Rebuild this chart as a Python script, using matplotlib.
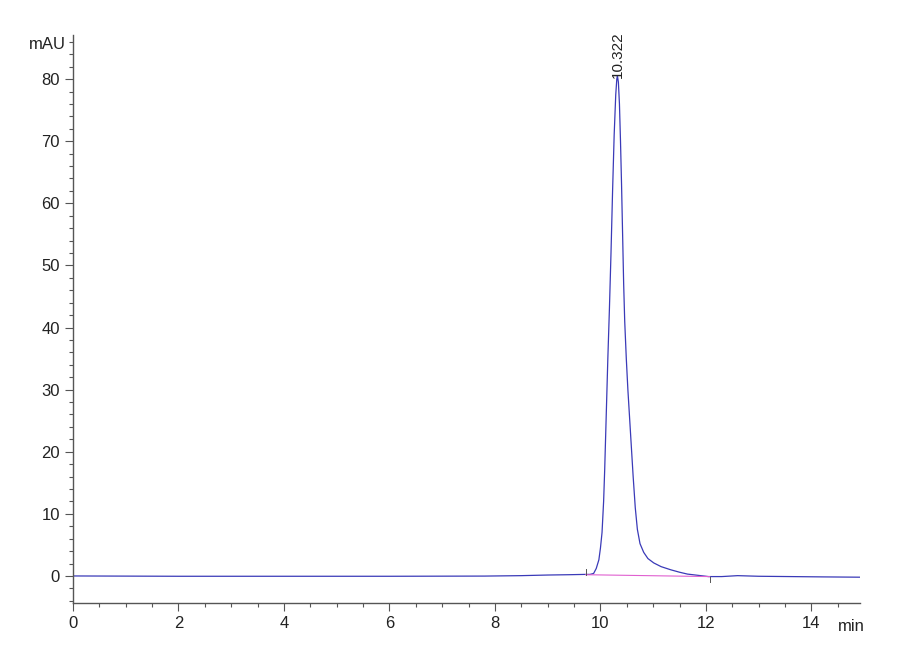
import matplotlib;
matplotlib.use('Agg');
import matplotlib.pyplot as plt;
from matplotlib.ticker import MultipleLocator;

# chromatogram (min, mAU)
time = [0.0, 2.0, 4.7, 6.0, 7.8, 8.5, 9.0, 9.4, 9.7, 9.8, 9.87, 9.92, 9.97,
        10.00, 10.03, 10.06, 10.08, 10.11, 10.14, 10.17, 10.20, 10.23, 10.26,
        10.29, 10.31, 10.322, 10.34, 10.36, 10.38, 10.40, 10.42, 10.44, 10.46,
        10.49, 10.52, 10.57, 10.62, 10.66, 10.70, 10.75, 10.82, 10.90, 11.01,
        11.15, 11.33, 11.50, 11.65, 11.85, 12.05, 12.30, 12.60, 13.00, 13.60,
        14.20, 14.93];
absorb = [0.0, -0.05, -0.05, -0.05, -0.02, 0.05, 0.15, 0.2, 0.25, 0.25, 0.4,
          1.2, 2.6, 4.5, 7.0, 12.0, 17.0, 26.0, 35.0, 43.0, 52.0, 62.0, 71.0,
          77.5, 80.0, 80.5, 79.5, 76.0, 70.0, 63.0, 55.0, 47.0, 41.0, 35.0,
          30.0, 23.0, 16.0, 11.0, 7.5, 5.2, 3.8, 2.8, 2.1, 1.5, 1.0, 0.6, 0.3,
          0.1, -0.1, -0.1, 0.05, -0.05, -0.1, -0.15, -0.2];

peak_rt = 10.322;
peak_h = 80.5;
base_t = [9.72, 12.07];
base_v = [0.2, -0.1];

FONT = ['Liberation Sans Narrow', 'Liberation Sans', 'DejaVu Sans'];
plt.rcParams['font.family'] = FONT;

fig = plt.figure(figsize=(9, 6.6), dpi=100);
ax = fig.add_axes([0.0811, 0.0864, 0.875, 0.8606]);

ax.plot(time, absorb, color='#3a3ab8', lw=0.9);
ax.plot(base_t, base_v, color='#e060d0', lw=0.8);
ax.plot([base_t[0], base_t[0]], [base_v[0], base_v[0] + 0.9], color='#555555', lw=0.7);
ax.plot([base_t[1], base_t[1]], [base_v[1], base_v[1] - 0.9], color='#555555', lw=0.7);

ax.text(peak_rt, peak_h - 0.4, '10.322', rotation=90, ha='center', va='bottom',
        fontsize=11, color='#222222');

ax.set_xlim(0, 14.93);
ax.set_ylim(-4.35, 87.1);
ax.xaxis.set_major_locator(MultipleLocator(2));
ax.xaxis.set_minor_locator(MultipleLocator(0.5));
ax.yaxis.set_major_locator(MultipleLocator(10));
ax.yaxis.set_minor_locator(MultipleLocator(2));

for s in ['top', 'right']:
  ax.spines[s].set_visible(False);
for s in ['left', 'bottom']:
  ax.spines[s].set_color('#555555');
  ax.spines[s].set_linewidth(1.0);

ax.tick_params(which='major', length=6, width=0.8, color='#555555', labelsize=12, labelcolor='#222222');
ax.tick_params(which='minor', length=3, width=0.8, color='#555555');

ax.text(-0.13, 85.5, 'mAU', ha='right', va='center', fontsize=12, color='#222222');
ax.text(14.75, -8.2, 'min', ha='center', va='center', fontsize=12, color='#222222');

fig.savefig('out.png', dpi=100);
